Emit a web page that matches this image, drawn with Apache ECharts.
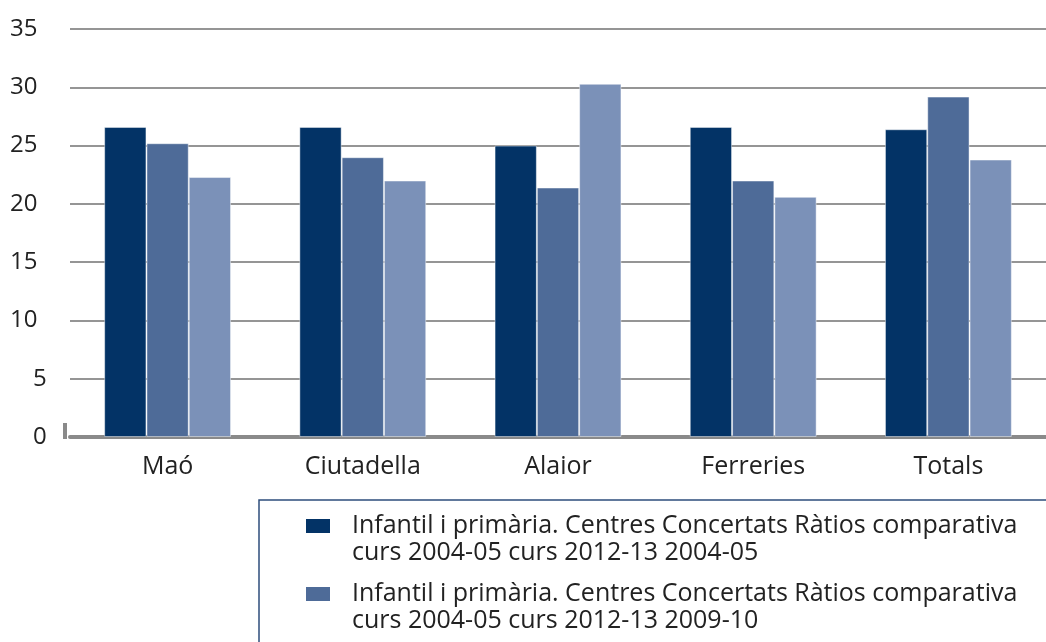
<!DOCTYPE html>
<html>
<head>
<meta charset="utf-8">
<script src="https://cdn.jsdelivr.net/npm/echarts@6/dist/echarts.min.js"></script>
<style>
html,body{margin:0;padding:0;background:#fff;}
#chart{width:1046px;height:642px;}
</style>
</head>
<body>
<div id="chart"></div>
<script>
var categories = ['Maó', 'Ciutadella', 'Alaior', 'Ferreries', 'Totals'];
var seriesNames = [
  'Infantil i primària. Centres Concertats Ràtios comparativa\ncurs 2004-05 curs 2012-13 2004-05',
  'Infantil i primària. Centres Concertats Ràtios comparativa\ncurs 2004-05 curs 2012-13 2009-10',
  'Infantil i primària. Centres Concertats Ràtios comparativa\ncurs 2004-05 curs 2012-13 2012-13'
];
var values2004 = [26.6, 26.6, 25.0, 26.6, 26.4];
var values2009 = [25.2, 24.0, 21.4, 22.0, 29.2];
var values2012 = [22.3, 22.0, 30.3, 20.6, 23.8];
var yTicks = [0, 5, 10, 15, 20, 25, 30, 35];

var colors = ['#033366', '#4e6b98', '#7b91b8'];
var font = '"Open Sans", Lato, sans-serif';
var legendIcon = 'path://M0,0M41,54M0,6.5h24v14h-24z';

var chart = echarts.init(document.getElementById('chart'));
var allValues = [values2004, values2009, values2012];
var series = allValues.map(function (vals, i) {
  return {
    name: seriesNames[i],
    type: 'bar',
    data: vals,
    barGap: '0%',
    barCategoryGap: '35%',
    itemStyle: { color: colors[i], borderColor: 'rgba(255,255,255,0.45)', borderWidth: 1 }
  };
});

chart.setOption({
  animation: false,
  backgroundColor: '#ffffff',
  grid: { left: 70, right: 0, top: 29, bottom: 205, containLabel: false },
  xAxis: {
    type: 'category',
    data: categories,
    offset: 2.5,
    axisLine: { show: true, lineStyle: { color: '#8a8a8a', width: 4 } },
    axisTick: { show: false },
    axisLabel: { color: '#222', fontSize: 25, fontFamily: font, margin: 15 }
  },
  yAxis: {
    type: 'value',
    min: yTicks[0],
    max: yTicks[yTicks.length - 1],
    interval: 5,
    axisLine: { show: false },
    axisTick: { show: false },
    splitLine: { lineStyle: { color: '#959595', width: 2 } },
    axisLabel: {
      color: '#222', fontSize: 24, fontFamily: font, align: 'left', margin: 60,
      formatter: function (v) { return v < 10 ? '{s|' + v + '}' : String(v); },
      rich: { s: { padding: [0, 0, 0, 23], fontSize: 24, fontFamily: font, color: '#222' } }
    }
  },
  legend: {
    orient: 'vertical',
    left: 259,
    top: 500,
    height: 300,
    padding: [12.5, 60, 20, 47],
    itemWidth: 41,
    itemHeight: 54,
    itemGap: 14,
    icon: legendIcon,
    borderColor: '#2e4d7c',
    borderWidth: 1.5,
    itemStyle: { borderWidth: 0 },
    textStyle: { color: '#222', fontSize: 25, fontFamily: font, lineHeight: 27 },
    data: seriesNames
  },
  graphic: [{
    type: 'rect', left: 63, top: 423, shape: { width: 4, height: 16 },
    style: { fill: '#8a8a8a' }, silent: true
  }],
  series: series
});
</script>
</body>
</html>
